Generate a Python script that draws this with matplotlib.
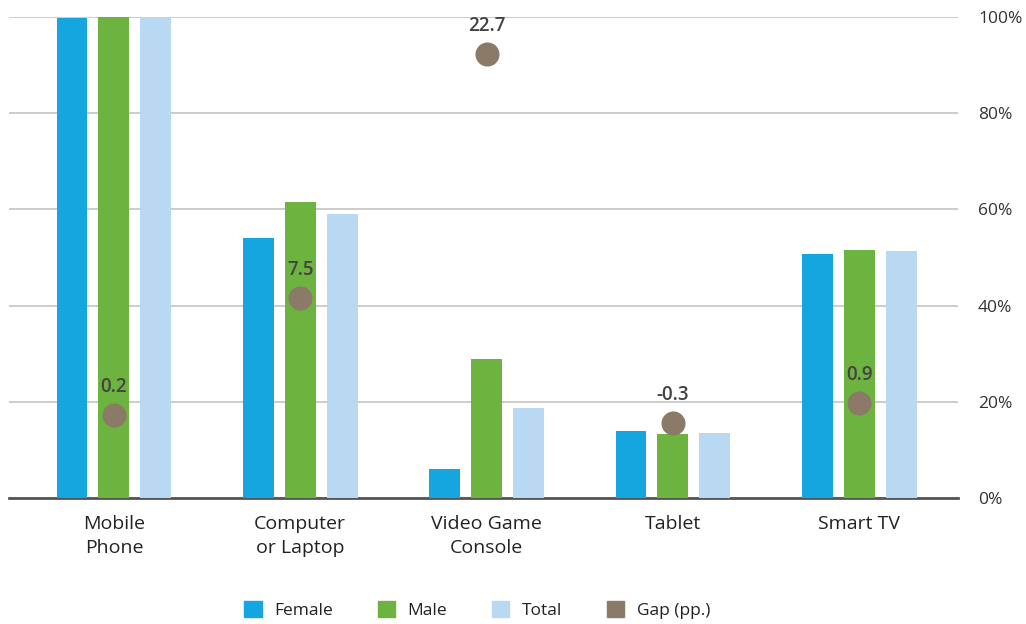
import matplotlib
matplotlib.use("Agg")
import matplotlib.pyplot as plt
import numpy as np
from matplotlib.patches import Patch

categories = ["Mobile\nPhone", "Computer\nor Laptop", "Video Game\nConsole", "Tablet", "Smart TV"]
female = [99.8, 54.1, 6.0, 13.9, 50.7]
male = [100.0, 61.5, 28.9, 13.3, 51.6]
total = [99.9, 59.0, 18.7, 13.5, 51.4]
gap = [0.2, 7.5, 22.7, -0.3, 0.9]
gap_labels = ["0.2", "7.5", "22.7", "-0.3", "0.9"]
y_ticks = [0, 20, 40, 60, 80, 100]
y_tick_labels = ["0%", "20%", "40%", "60%", "80%", "100%"]

c_female = "#16a6df"
c_male = "#6db33f"
c_total = "#b8d9f1"
c_gap = "#8b7a67"

plt.rcParams['font.family'] = ['Open Sans', 'DejaVu Sans']

fig = plt.figure(figsize=(10.26, 6.24), dpi=100)
ax = fig.add_axes([0.00877, 0.2019, 0.9337 - 0.00877, 0.9728 - 0.2019])

x = np.arange(len(categories))
w = 0.166
off = 0.225
ax.bar(x - off, female, w, color=c_female, zorder=3)
ax.bar(x, male, w, color=c_male, zorder=3)
ax.bar(x + off, total, w, color=c_total, zorder=3)

ax2 = ax.twinx()
ax2.set_ylim(-5, 25)
ax2.axis('off')
ax2.scatter(x, gap, s=300, color=c_gap, zorder=5, clip_on=False, linewidths=0)
for xi, g, lab in zip(x, gap, gap_labels):
    ax2.annotate(lab, (xi, g), xytext=(0, 13), textcoords='offset points',
                 ha='center', va='bottom', fontsize=13.5, fontweight='semibold',
                 color="#444444", annotation_clip=False)

ax.set_xlim(-0.563, 4.53)
ax.set_ylim(0, 100)
ax.set_yticks(y_ticks)
ax.set_yticklabels(y_tick_labels)
ax.yaxis.set_ticks_position('right')
ax.tick_params(axis='y', which='both', left=False, right=False,
               labelleft=False, labelright=True, labelsize=12.5,
               labelcolor="#333333", pad=11)
for tk in ax.yaxis.get_major_ticks():
    tk.label2.set_horizontalalignment('left')
ax.set_xticks(x)
ax.set_xticklabels(categories, fontsize=14, color="#222222", linespacing=1.45)
ax.tick_params(axis='x', length=0, pad=12)
for s in ["top", "left", "right"]:
    ax.spines[s].set_visible(False)
ax.spines["bottom"].set_color("#555555")
ax.spines["bottom"].set_linewidth(2)
ax.yaxis.grid(True, color="#c4c4c4", linewidth=1.2, zorder=0)
ax.set_axisbelow(True)

handles = [Patch(color=c_female, label="Female"),
           Patch(color=c_male, label="Male"),
           Patch(color=c_total, label="Total"),
           Patch(color=c_gap, label="Gap (pp.)")]
fig.legend(handles=handles, loc='center', bbox_to_anchor=(0.465, 0.022), ncol=4,
           frameon=False, fontsize=12.5, handlelength=1.0, handleheight=1.0,
           columnspacing=2.6, handletextpad=0.7, labelcolor="#222222")

fig.savefig("out.png", dpi=100)
